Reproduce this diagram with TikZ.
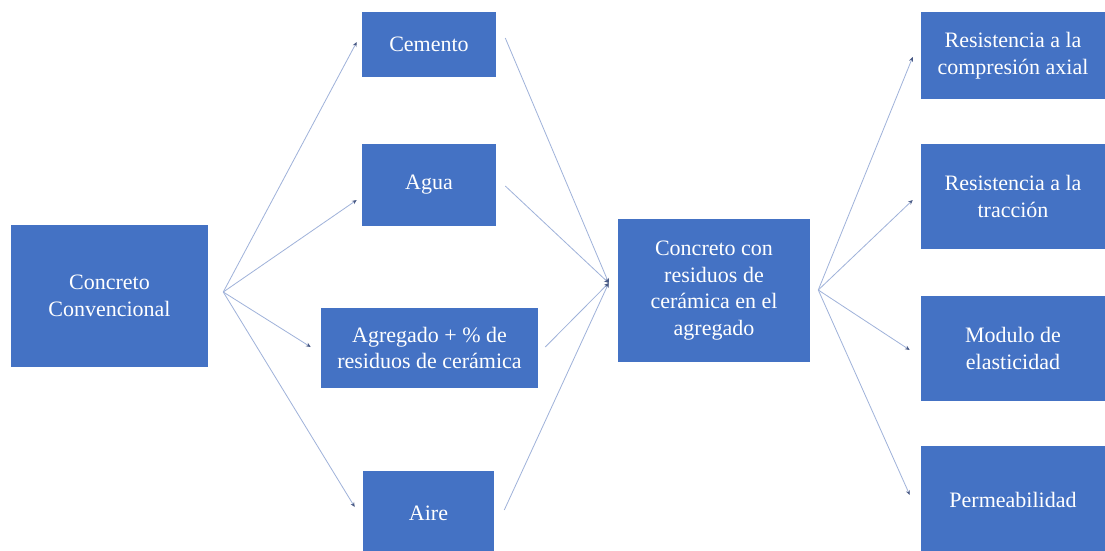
\documentclass[tikz,border=0pt]{standalone}
\usepackage{fontspec}
\setmainfont{Liberation Serif}
\usetikzlibrary{arrows.meta,calc}
\definecolor{boxblue}{HTML}{4472C4}
\definecolor{linecol}{HTML}{9FB2DA}
\definecolor{tipcol}{HTML}{4A5B86}
\begin{document}
\begin{tikzpicture}[x=0.75pt,y=-0.75pt,
  box/.style 2 args={rectangle, fill=boxblue, draw=none, text=white, align=center,
    inner sep=0pt, minimum width=#1, minimum height=#2,
    font=\fontsize{16.5}{20}\selectfont},
  conn/.style={draw=linecol, line width=0.6pt,
    -{Stealth[length=3.5pt,width=3pt,color=tipcol]}},
  plain/.style={draw=linecol, line width=0.6pt}]
\useasboundingbox (0,0) rectangle (1105,550);
\fill[white] (0,0) rectangle (1105,550);

% nodes
\node[box={147.75pt}{106.5pt}] (cc) at (109.5,296) {Concreto\\Convencional};
\node[box={100.5pt}{48.75pt}] (cem) at (429,44.5) {Cemento};
\node[box={100.5pt}{61.5pt}] (agua) at (429,185) {Agua};
\node[box={162.75pt}{60pt}] (agr) at (429.5,348) {Agregado + \% de\\residuos de cerámica};
\node[box={98.25pt}{63pt}] (aire) at (428.5,513) {Aire};
\node[box={144pt}{107.25pt}] (mid) at (714,290.5) {Concreto con\\residuos de\\cerámica en el\\agregado};
\node[box={138pt}{65.25pt}] (r1) at (1013,55.5) {Resistencia a la\\compresión axial};
\node[box={138pt}{78.75pt}] (r2) at (1013,196.5) {Resistencia a la\\tracción};
\node[box={138pt}{78.75pt}] (r3) at (1013,348.5) {Modulo de\\elasticidad};
\node[box={138pt}{81pt}] (r4) at (1013,500) {Permeabilidad};

% fan points
\coordinate (o1) at ($(cc.east)+(15,-4)$);
\coordinate (cv) at ($(mid.west)+(-9,-7.5)$);
\coordinate (o2) at ($(mid.east)+(8,-0.5)$);

% left fan
\draw[conn] (o1) -- ($(cem.west)+(-5,-2.5)$);
\draw[conn] (o1) -- ($(agua.west)+(-5,15)$);
\draw[conn] (o1) -- ($(agr.west)+(-10,-1)$);
\draw[conn] (o1) -- ($(aire.west)+(-8,-6)$);

% convergence
\draw[conn] ($(cem.east)+(9,-6.5)$) -- (cv);
\draw[conn] ($(agua.east)+(9,1)$) -- (cv);
\draw[conn] ($(agr.east)+(7,-1)$) -- (cv);
\draw[conn] ($(aire.east)+(10,-3)$) -- (cv);

% right fan
\draw[conn] (o2) -- ($(r1.west)+(-8,1.5)$);
\draw[conn] (o2) -- ($(r2.west)+(-8,3.5)$);
\draw[conn] (o2) -- ($(r3.west)+(-11,1.5)$);
\draw[conn] (o2) -- ($(r4.west)+(-11,-5)$);
\end{tikzpicture}
\end{document}
